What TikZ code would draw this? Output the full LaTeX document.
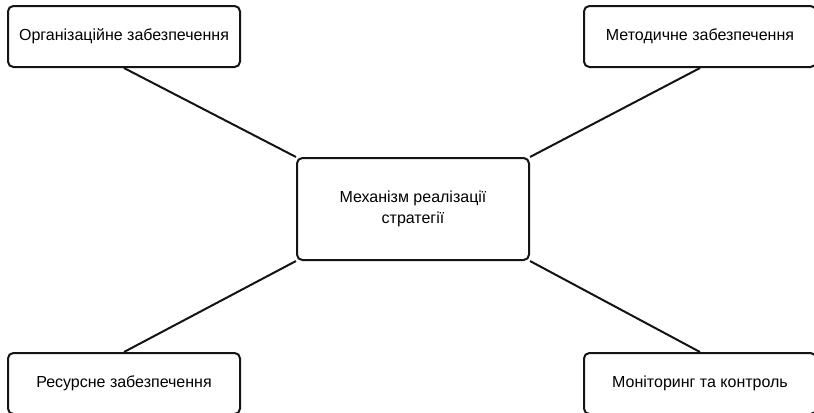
\documentclass[tikz,border=0pt]{standalone}
\usepackage{fontspec}
\setmainfont{Liberation Sans}
\usepackage{xcolor}
\usepackage{tikz}
\usetikzlibrary{positioning}
\definecolor{mechblack}{RGB}{20, 20, 20}

\begin{document}
\begin{tikzpicture}[x=0.75pt, y=-0.75pt,
    font=\fontsize{12}{16}\selectfont,
    item/.style={draw=mechblack, line width=1.5pt, rounded corners=4pt,
                 minimum width=232*0.75pt, minimum height=61*0.75pt,
                 inner sep=0pt, align=center},
    link/.style={draw=mechblack, line width=1.5pt}]
    \useasboundingbox (0,0) rectangle (814,412);
    \clip (0,0) rectangle (814,412);
    \node[item, minimum height=102*0.75pt] (mech) at (413,209)
      {Механізм реалізації\\стратегії};
    \node[item] (org) at (124,36.5) {Організаційне забезпечення};
    \node[item] (met) at (700,36.5) {Методичне забезпечення};
    \node[item] (res) at (124,383.5) {Ресурсне забезпечення};
    \node[item] (mon) at (700,383.5) {Моніторинг та контроль};
    \draw[link] (org.south) -- (mech.north west);
    \draw[link] (met.south) -- (mech.north east);
    \draw[link] (res.north) -- (mech.south west);
    \draw[link] (mon.north) -- (mech.south east);
  \end{tikzpicture}
\end{document}
